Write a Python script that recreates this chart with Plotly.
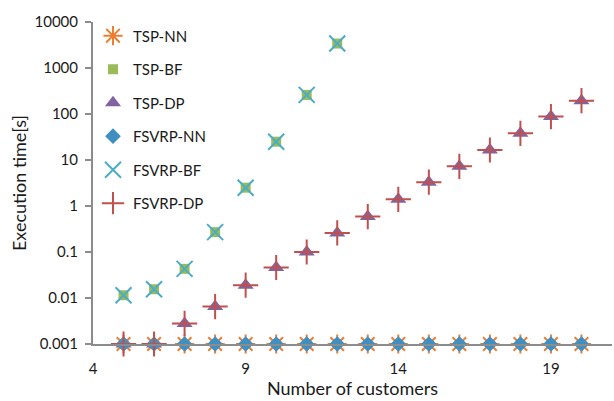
import plotly.graph_objects as go

# Problem sizes (number of customers)
customers = list(range(5, 21))

# Execution times in seconds
tsp_nn = [0.001] * 16
tsp_bf = [0.0115, 0.0155, 0.043, 0.27, 2.5, 25, 260, 3400]
tsp_dp = [0.001, 0.001, 0.0028, 0.0065, 0.019, 0.046, 0.10, 0.26, 0.59,
          1.4, 3.3, 7.3, 16.5, 38, 88, 195]
fsvrp_nn = [0.001] * 16
fsvrp_bf = [0.0115, 0.0155, 0.043, 0.27, 2.5, 25, 260, 3400]
fsvrp_dp = [0.001, 0.001, 0.0028, 0.0065, 0.019, 0.046, 0.10, 0.26, 0.59,
            1.4, 3.3, 7.3, 16.5, 38, 88, 195]

y_ticks = [0.001, 0.01, 0.1, 1, 10, 100, 1000, 10000]
y_tick_labels = ["0.001", "0.01", "0.1", "1", "10", "100", "1000", "10000"]
x_ticks = [4, 9, 14, 19]

FONT = "Lato"
AXIS_COLOR = "#8c8c8c"

series = [
    ("TSP-NN", tsp_nn, dict(symbol="asterisk-open", size=16, color="#ED7D31",
                            line=dict(color="#ED7D31", width=2))),
    ("TSP-BF", tsp_bf, dict(symbol="square", size=10, color="#9BBB59",
                            line=dict(width=0))),
    ("TSP-DP", tsp_dp, dict(symbol="triangle-up", size=14, color="#8064A2",
                            line=dict(width=0))),
    ("FSVRP-NN", fsvrp_nn, dict(symbol="diamond", size=12, color="#3F8FC0",
                                line=dict(width=0))),
    ("FSVRP-BF", fsvrp_bf, dict(symbol="x-thin-open", size=16, color="#4BACC6",
                                line=dict(color="#4BACC6", width=2))),
    ("FSVRP-DP", fsvrp_dp, dict(symbol="cross-thin-open", size=18, color="#C0504D",
                                line=dict(color="#C0504D", width=2))),
]

fig = go.Figure()
for i, (name, values, marker) in enumerate(series):
    fig.add_trace(go.Scatter(
        x=customers[:len(values)], y=values, mode="markers", name=name,
        marker=marker, legendgroup=f"g{i}", cliponaxis=False,
    ))

fig.update_layout(
    width=614, height=401,
    margin=dict(l=93, r=2, t=22, b=57),
    paper_bgcolor="white", plot_bgcolor="white",
    font=dict(family=FONT, size=15, color="#1a1a1a"),
    showlegend=True,
    legend=dict(x=0.0, y=1.008, xanchor="left", yanchor="top",
                bgcolor="rgba(0,0,0,0)", font=dict(family=FONT, size=15),
                traceorder="grouped", tracegroupgap=11, itemwidth=30),
)

fig.update_xaxes(
    range=[4, 21], tickvals=x_ticks, ticks="", showgrid=False, zeroline=False,
    showline=True, linecolor=AXIS_COLOR, linewidth=2,
    ticklabelstandoff=10,
    title=dict(text="Number of customers", standoff=5,
               font=dict(family=FONT, size=18)),
)
fig.update_yaxes(
    type="log", range=[-3, 4], tickvals=y_ticks, ticktext=y_tick_labels,
    ticks="outside", ticklen=6, tickwidth=1.5, tickcolor=AXIS_COLOR,
    ticklabelstandoff=4,
    showgrid=False, zeroline=False,
    showline=True, linecolor=AXIS_COLOR, linewidth=2,
    title=dict(text="Execution time[s]", standoff=3,
               font=dict(family=FONT, size=18)),
)

fig.write_html("out.html")
